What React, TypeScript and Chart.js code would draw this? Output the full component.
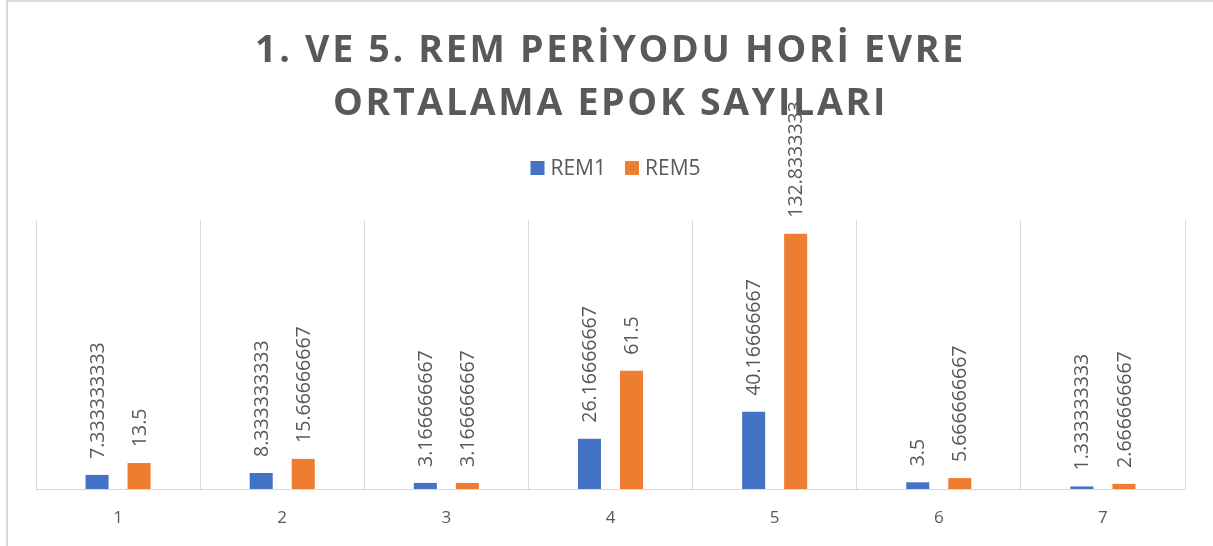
import React, { useEffect, useRef } from 'react';
import { Chart, registerables } from 'chart.js';

Chart.register(...registerables);

const categories = ['1', '2', '3', '4', '5', '6', '7'];
const rem1Values = [7.333333333, 8.333333333, 3.166666667, 26.16666667, 40.16666667, 3.5, 1.333333333];
const rem5Values = [13.5, 15.66666667, 3.166666667, 61.5, 132.8333333, 5.666666667, 2.666666667];
const seriesNames = ['REM1', 'REM5'];
const seriesColors = ['#4472C4', '#ED7D31'];
const titleLines = ['1. VE 5. REM PERİYODU HORİ EVRE', 'ORTALAMA EPOK SAYILARI'];

const TEXT = '#595959';
const GRID = '#D9D9D9';
const FONT = '"Open Sans", "DejaVu Sans", sans-serif';

const framePlugin = {
  id: 'frame',
  beforeDraw(chart: any) {
    const ctx = chart.ctx;
    ctx.save();
    ctx.fillStyle = '#FFFFFF';
    ctx.fillRect(0, 0, chart.width, chart.height);
    ctx.strokeStyle = GRID;
    ctx.lineWidth = 2;
    ctx.beginPath();
    ctx.moveTo(7, chart.height + 2);
    ctx.lineTo(7, 1);
    ctx.lineTo(chart.width + 2, 1);
    ctx.stroke();
    ctx.restore();
  },
};

const titlePlugin = {
  id: 'customTitle',
  beforeDatasetsDraw(chart: any) {
    const ctx = chart.ctx;
    const cx = (chart.chartArea.left + chart.chartArea.right) / 2;
    ctx.save();
    ctx.fillStyle = TEXT;
    ctx.font = `bold 37.5px ${FONT}`;
    (ctx as any).letterSpacing = '2.7px';
    ctx.textAlign = 'center';
    ctx.textBaseline = 'alphabetic';
    ctx.fillText(titleLines[0], cx, 62);
    ctx.fillText(titleLines[1], cx, 115);
    ctx.restore();
  },
};

const legendPlugin = {
  id: 'customLegend',
  afterDraw(chart: any) {
    const ctx = chart.ctx;
    const cx = (chart.chartArea.left + chart.chartArea.right) / 2 + 5;
    const box = 14;
    const gap = 6;
    const itemGap = 19;
    const y = 168;
    ctx.save();
    ctx.font = `21px ${FONT}`;
    const items = chart.data.datasets.map((ds: any) => ({
      label: ds.label,
      color: ds.backgroundColor,
      w: box + gap + ctx.measureText(ds.label).width,
    }));
    const total = items.reduce((s: number, it: any) => s + it.w, 0) + itemGap * (items.length - 1);
    let x = cx - total / 2;
    ctx.textBaseline = 'middle';
    ctx.textAlign = 'left';
    items.forEach((it: any) => {
      ctx.fillStyle = it.color;
      ctx.fillRect(x, y - box / 2, box, box);
      ctx.fillStyle = TEXT;
      ctx.fillText(it.label, x + box + gap, y + 1);
      x += it.w + itemGap;
    });
    ctx.restore();
  },
};

const labelPlugin = {
  id: 'barLabels',
  afterDatasetsDraw(chart: any) {
    const ctx = chart.ctx;
    ctx.save();
    ctx.fillStyle = TEXT;
    ctx.font = `19.5px ${FONT}`;
    ctx.textAlign = 'left';
    ctx.textBaseline = 'middle';
    chart.data.datasets.forEach((ds: any, i: number) => {
      const meta = chart.getDatasetMeta(i);
      meta.data.forEach((bar: any, j: number) => {
        const { x, y } = bar.getProps(['x', 'y'], true);
        ctx.save();
        ctx.translate(x + 1, y - 16);
        ctx.rotate(-Math.PI / 2);
        ctx.fillText(String(ds.data[j]), 0, 0);
        ctx.restore();
      });
    });
    ctx.restore();
  },
};

export default function App() {
  const canvasRef = useRef<HTMLCanvasElement | null>(null);

  useEffect(() => {
    if (!canvasRef.current) return;
    const chart = new Chart(canvasRef.current, {
      type: 'bar',
      data: {
        labels: categories,
        datasets: [
          { label: seriesNames[0], data: rem1Values, backgroundColor: seriesColors[0] },
          { label: seriesNames[1], data: rem5Values, backgroundColor: seriesColors[1] },
        ],
      },
      options: {
        animation: false,
        responsive: false,
        layout: { padding: { top: 220, left: 36, right: 28, bottom: -2 } },
        datasets: { bar: { categoryPercentage: 0.512, barPercentage: 0.548 } },
        plugins: {
          legend: { display: false },
          title: { display: false },
          tooltip: { enabled: false },
        },
        scales: {
          x: {
            grid: { offset: true, color: GRID, lineWidth: 1, drawTicks: false },
            border: { color: GRID, width: 1 },
            ticks: { color: TEXT, font: { family: FONT, size: 17, lineHeight: 1 }, padding: 21 },
          },
          y: { display: false, min: 0, max: 140 },
        },
      },
      plugins: [framePlugin, titlePlugin, legendPlugin, labelPlugin],
    });
    return () => chart.destroy();
  }, []);

  return (
    <div style={{ position: 'absolute', left: 0, top: 0, width: 1213, height: 546, background: '#fff' }}>
      <canvas ref={canvasRef} width={1213} height={546} style={{ display: 'block' }} />
    </div>
  );
}
